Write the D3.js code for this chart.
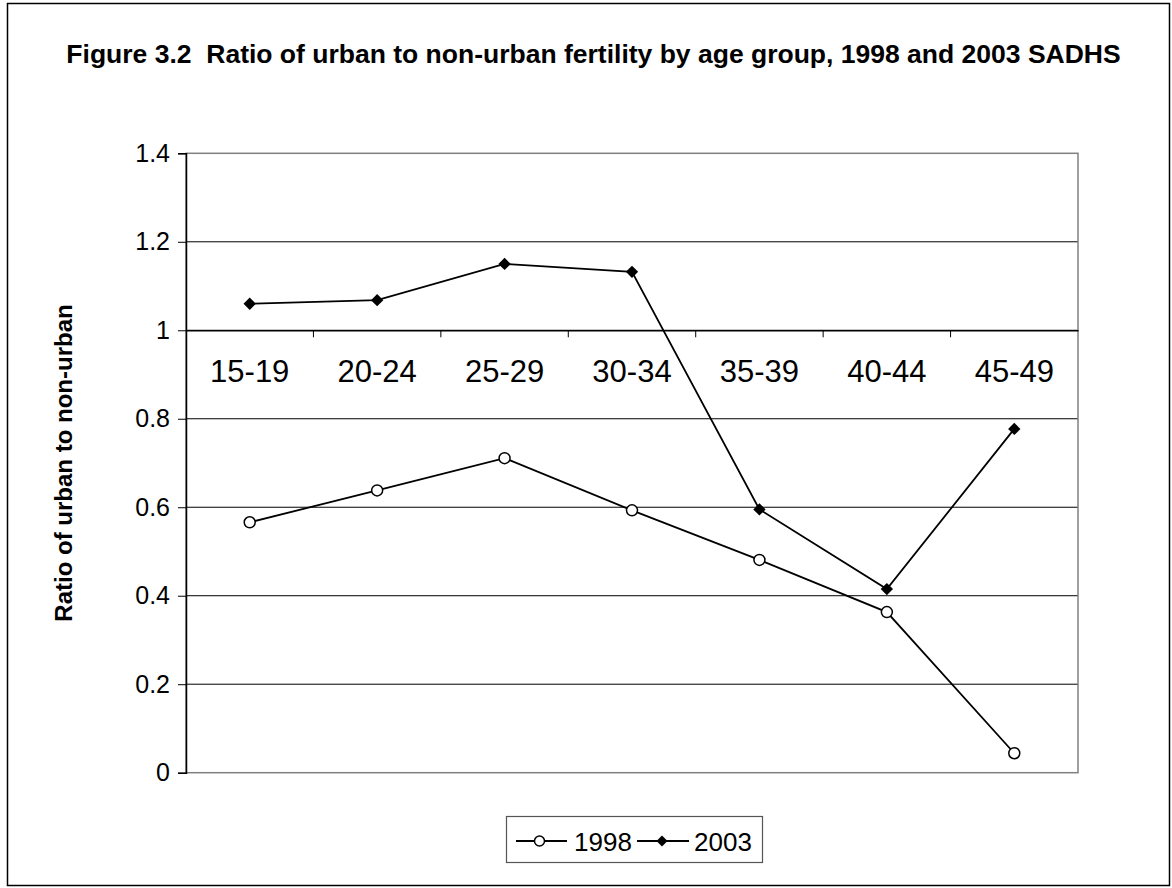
<!DOCTYPE html>
<html>
<head>
<meta charset="utf-8">
<script src="https://cdn.jsdelivr.net/npm/d3@7/dist/d3.min.js"></script>
<style>
  html, body { margin: 0; padding: 0; background: #fff; }
  svg { display: block; font-family: Arial, "Liberation Sans", sans-serif; }
</style>
</head>
<body>
<svg id="chart" width="1172" height="888"></svg>
<script>
const categories = ["15-19", "20-24", "25-29", "30-34", "35-39", "40-44", "45-49"];
const values1998 = [0.566, 0.638, 0.711, 0.593, 0.481, 0.363, 0.044];
const values2003 = [1.060, 1.068, 1.150, 1.132, 0.595, 0.415, 0.777];
const seriesNames = ["1998", "2003"];
const yTicks = [0, 0.2, 0.4, 0.6, 0.8, 1, 1.2, 1.4];
const titleText = "Figure 3.2  Ratio of urban to non-urban fertility by age group, 1998 and 2003 SADHS";
const yTitle = "Ratio of urban to non-urban";

const svg = d3.select("#chart");
const plot = { left: 186, right: 1078, top: 153.3, bottom: 772.7 };

// outer frame
svg.append("rect").attr("x", 7.5).attr("y", 3.5).attr("width", 1162).attr("height", 882)
  .attr("fill", "#fff").attr("stroke", "#000").attr("stroke-width", 1.5);

// title
svg.append("text").attr("x", (65 + 1122) / 2).attr("y", 63)
  .attr("text-anchor", "middle").attr("font-weight", "bold").attr("font-size", 26.5)
  .style("white-space", "pre")
  .text(titleText);

const x = d3.scaleBand().domain(categories).range([plot.left, plot.right]).padding(0);
const y = d3.scaleLinear().domain([0, 1.4]).range([plot.bottom, plot.top]);

// gridlines
svg.append("g").selectAll("line").data(yTicks.filter(d => d > 0 && d < 1.4)).join("line")
  .attr("x1", plot.left).attr("x2", plot.right)
  .attr("y1", d => y(d)).attr("y2", d => y(d))
  .attr("stroke", "#000").attr("stroke-width", 1);

// plot border (gray)
svg.append("rect").attr("x", plot.left).attr("y", plot.top)
  .attr("width", plot.right - plot.left).attr("height", plot.bottom - plot.top)
  .attr("fill", "none").attr("stroke", "#808080").attr("stroke-width", 1.5);

// y axis
const yAxis = d3.axisLeft(y).tickValues(yTicks).tickSize(8).tickPadding(8)
  .tickFormat(d => d3.format("")(+d.toFixed(1)));
const yg = svg.append("g").attr("transform", `translate(${plot.left},0)`).call(yAxis);
yg.select(".domain").attr("stroke", "#000").attr("stroke-width", 1.5);
yg.selectAll(".tick line").attr("stroke", "#000");
yg.selectAll(".tick text").attr("font-size", 25).attr("font-family", "Arial, 'Liberation Sans', sans-serif")
  .attr("fill", "#000");

// category axis crossing at y = 1
const xAxis = d3.axisBottom(x).tickSize(0).tickPadding(0);
const xg = svg.append("g").attr("transform", `translate(0,${y(1)})`).call(xAxis);
xg.select(".domain").attr("stroke", "#000").attr("stroke-width", 1.5);
xg.selectAll(".tick text").attr("font-size", 31).attr("font-family", "Arial, 'Liberation Sans', sans-serif")
  .attr("fill", "#000").attr("dy", 0).attr("y", 382 - y(1));
// tick marks at band boundaries
xg.append("g").selectAll("line").data(categories.slice(1)).join("line")
  .attr("x1", d => x(d)).attr("x2", d => x(d)).attr("y1", 0).attr("y2", 7)
  .attr("stroke", "#000").attr("stroke-width", 1);

// y title
svg.append("text").attr("transform", `translate(72,${(plot.top + plot.bottom) / 2}) rotate(-90)`)
  .attr("text-anchor", "middle").attr("font-weight", "bold").attr("font-size", 24)
  .text(yTitle);

const cx = d => x(d) + x.bandwidth() / 2;
const line = d3.line().x((d, i) => cx(categories[i])).y(d => y(d));

// 1998 series
svg.append("path").datum(values1998).attr("d", line)
  .attr("fill", "none").attr("stroke", "#000").attr("stroke-width", 1.8);
svg.append("g").selectAll("circle").data(values1998).join("circle")
  .attr("cx", (d, i) => cx(categories[i])).attr("cy", d => y(d)).attr("r", 5.5)
  .attr("fill", "#fff").attr("stroke", "#000").attr("stroke-width", 1.5);

// 2003 series
svg.append("path").datum(values2003).attr("d", line)
  .attr("fill", "none").attr("stroke", "#000").attr("stroke-width", 1.8);
svg.append("g").selectAll("path").data(values2003).join("path")
  .attr("d", d3.symbol().type(d3.symbolSquare).size(76))
  .attr("transform", (d, i) => `translate(${cx(categories[i])},${y(d)}) rotate(45)`)
  .attr("fill", "#000");

// legend
const lg = svg.append("g");
lg.append("rect").attr("x", 506.5).attr("y", 816.5).attr("width", 256).attr("height", 46)
  .attr("fill", "#fff").attr("stroke", "#555").attr("stroke-width", 1.2);
const ly = 841;
lg.append("line").attr("x1", 516).attr("x2", 567).attr("y1", ly).attr("y2", ly).attr("stroke", "#000").attr("stroke-width", 1.8);
lg.append("circle").attr("cx", 539.5).attr("cy", ly).attr("r", 5).attr("fill", "#fff").attr("stroke", "#000").attr("stroke-width", 1.5);
lg.append("text").attr("x", 574).attr("y", ly + 9.5).attr("font-size", 26).text(seriesNames[0]);
lg.append("line").attr("x1", 637).attr("x2", 689).attr("y1", ly).attr("y2", ly).attr("stroke", "#000").attr("stroke-width", 1.8);
lg.append("path").attr("d", d3.symbol().type(d3.symbolSquare).size(60))
  .attr("transform", `translate(662,${ly}) rotate(45)`).attr("fill", "#000");
lg.append("text").attr("x", 694).attr("y", ly + 9.5).attr("font-size", 26).text(seriesNames[1]);
</script>
</body>
</html>
